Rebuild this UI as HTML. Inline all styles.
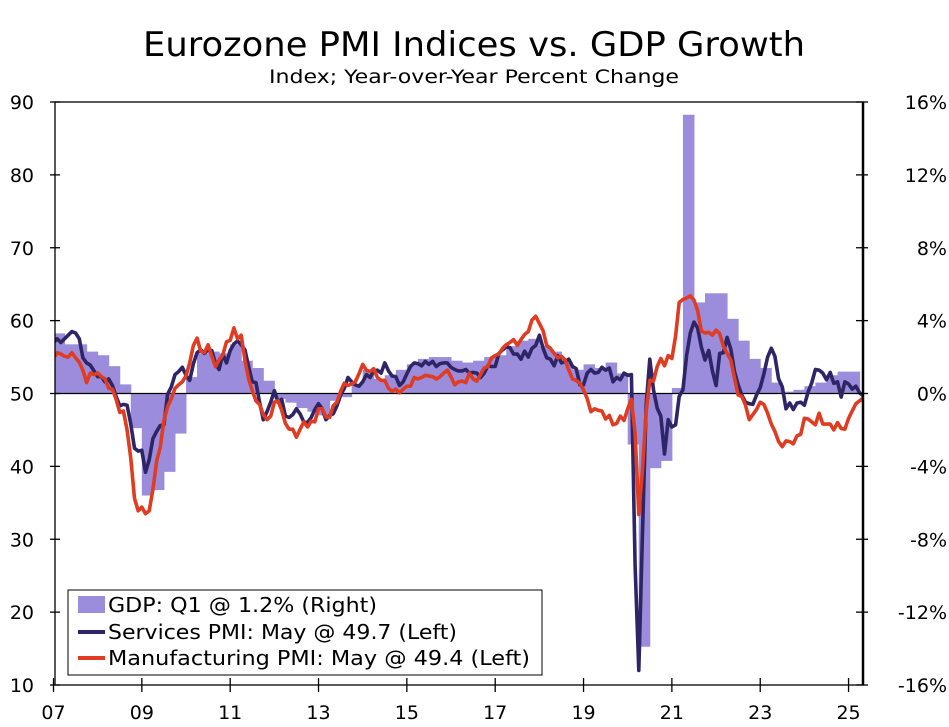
<!DOCTYPE html>
<html><head><meta charset="utf-8"><style>
body{margin:0;background:#fff;}
svg{display:block;font-family:"DejaVu Sans","Liberation Sans",sans-serif;}
</style></head><body>
<svg id="chart" width="949" height="727" xmlns="http://www.w3.org/2000/svg">
<text x="474" y="56" text-anchor="middle" font-size="34" textLength="662" lengthAdjust="spacingAndGlyphs">Eurozone PMI Indices vs. GDP Growth</text>
<text x="474" y="83" text-anchor="middle" font-size="19" textLength="410" lengthAdjust="spacingAndGlyphs">Index; Year-over-Year Percent Change</text>
<defs><clipPath id="plotclip"><rect x="55" y="102" width="808" height="583"/></clipPath></defs>
<g id="bars" clip-path="url(#plotclip)"></g>
<g id="lines" clip-path="url(#plotclip)"></g>
<g id="axes"></g>
<g>
<rect x="68" y="590" width="474" height="85" fill="#fff" stroke="#000" stroke-width="1"/>
<rect x="78" y="596" width="27" height="17" fill="#9b8ddc"/>
<text x="108" y="612" font-size="20" textLength="269" lengthAdjust="spacingAndGlyphs">GDP: Q1 @ 1.2% (Right)</text>
<line x1="78" y1="632" x2="105" y2="632" stroke="#2e2566" stroke-width="4"/>
<text x="108" y="639" font-size="20" textLength="349" lengthAdjust="spacingAndGlyphs">Services PMI: May @ 49.7 (Left)</text>
<line x1="78" y1="658" x2="105" y2="658" stroke="#e03c22" stroke-width="4"/>
<text x="108" y="665" font-size="20" textLength="422" lengthAdjust="spacingAndGlyphs">Manufacturing PMI: May @ 49.4 (Left)</text>
</g>
</svg>
<script>
const gdpQuarters = 2007; // first year, Q1
const gdpValues = [3.3,2.7,2.7,2.3, 2.1,1.5,0.5,-1.9, -5.6,-5.3,-4.3,-2.2, 0.9,2.2,2.3,2.2, 2.7,1.8,1.4,0.7, -0.3,-0.5,-0.8,-1.0, -1.2,-0.4,-0.2,0.5, 1.3,0.8,1.0,1.3, 1.6,1.9,2.0,2.0, 1.8,1.7,1.8,2.0, 2.1,2.6,2.9,3.0, 2.6,2.3,1.7,1.3, 1.6,1.4,1.7,1.1, -2.8,-13.9,-4.1,-3.7, 0.3,15.3,5.0,5.5, 5.5,4.1,2.9,1.9, 1.4,0.6,0.1,0.2, 0.4,0.6,1.0,1.2, 1.2];
const servicesPMI = [57,57.5,57,57.5,58,58.5,58.3,57.5,54.9,54.2,53.9,53.1,
52.3,52.3,51.6,52.0,51.1,49.6,48.3,48.5,48.4,45.8,42.5,42.1,
42.2,39.2,40.9,43.8,44.8,45.6,45.7,49.9,50.9,52.6,53.0,53.6,
52.5,51.8,54.1,55.6,56.0,55.5,56.0,55.9,54.1,53.3,55.4,54.2,
55.9,56.8,57.2,56.7,56.0,53.7,51.6,51.5,48.8,46.4,47.5,48.8,
50.4,48.8,49.2,46.9,46.7,47.1,47.9,47.2,46.1,46.0,46.7,47.8,
48.6,47.9,46.4,47.0,47.2,48.3,49.8,50.7,52.2,51.6,51.2,51.0,
51.6,52.6,52.2,53.1,53.2,52.8,54.2,53.1,52.4,52.3,51.1,51.6,
52.7,53.7,54.2,54.1,53.8,54.4,54.0,54.4,53.7,54.1,54.2,54.2,
53.6,53.3,53.1,53.1,53.3,52.8,52.9,52.8,52.2,52.8,53.8,53.7,
53.7,55.5,56.0,56.4,56.3,55.4,55.4,54.7,55.8,55.0,56.2,56.6,
58.0,56.2,54.9,54.7,53.8,55.2,54.2,54.4,54.7,53.7,53.4,51.2,
51.2,52.8,53.3,52.8,52.9,53.6,53.2,53.5,51.6,52.2,51.9,52.8,
52.5,52.6,26.4,12.0,30.5,48.3,54.7,50.5,48.0,46.9,41.7,46.4,
45.4,45.7,49.6,50.5,55.2,58.3,59.8,59.0,56.4,54.6,55.9,53.1,
51.1,55.5,55.6,57.7,56.1,53.0,51.2,49.8,48.8,48.6,48.5,49.8,
50.8,52.7,55.0,56.2,55.1,52.0,50.9,47.9,48.7,47.8,48.7,48.8,
48.4,50.2,51.5,53.3,53.2,52.8,51.9,52.9,51.4,51.6,49.5,51.6,
51.3,50.6,51.0,50.1,49.7];
const manufacturingPMI = [54.8,55.6,55.4,55.1,55.0,55.6,54.9,54.3,53.2,51.5,52.8,52.6,
52.8,52.3,52.0,50.7,50.6,49.2,47.4,47.6,45.0,41.1,35.6,33.9,
34.4,33.5,33.9,36.8,40.7,42.6,46.3,48.2,49.3,50.7,51.2,51.6,
52.4,54.2,56.6,57.6,55.8,55.6,56.7,55.1,53.7,54.6,55.3,57.1,
57.3,59.0,57.5,58.0,54.6,52.0,50.4,49.0,48.5,47.1,46.4,46.9,
48.8,49.0,47.7,45.9,45.1,45.1,44.0,45.1,46.1,45.4,46.2,46.1,
47.9,47.9,46.8,46.7,48.3,48.8,50.3,51.4,51.1,51.3,51.6,52.7,
54.0,53.2,53.0,53.4,52.2,51.8,51.8,50.7,50.3,50.6,50.1,50.6,
51.0,51.0,52.2,52.0,52.2,52.5,52.4,52.3,52.0,52.3,52.8,53.2,
52.3,51.2,51.6,51.7,51.5,52.8,52.0,51.7,52.6,53.5,53.7,54.9,
55.2,55.4,56.2,56.7,57.0,57.4,56.6,57.4,58.1,58.5,60.1,60.6,
59.6,58.6,56.6,56.2,55.5,54.9,55.1,54.6,53.2,52.0,51.8,51.4,
50.5,49.3,47.5,47.9,47.7,47.6,46.5,47.0,45.7,45.9,46.9,46.3,
47.9,49.2,44.5,33.4,39.4,47.4,51.8,51.7,53.7,54.8,53.8,55.2,
54.8,57.9,62.5,62.9,63.1,63.4,62.8,61.4,58.6,58.3,58.4,58.0,
58.7,58.2,56.5,55.5,54.6,52.1,49.8,49.6,48.4,46.4,47.1,47.8,
48.8,48.5,47.3,45.8,44.8,43.4,42.7,43.5,43.4,43.1,44.2,44.4,
46.6,46.5,46.1,45.7,47.3,45.8,45.8,45.8,45.0,46.0,45.2,45.1,
46.6,47.6,48.6,49.0,49.4];
const leftTicks = [90,80,70,60,50,40,30,20,10];
const rightTicks = [16,12,8,4,0,-4,-8,-12,-16];
const xTickLabels = ["07","09","11","13","15","17","19","21","23","25"];
const xTickYears = [2007,2009,2011,2013,2015,2017,2019,2021,2023,2025];

const NS="http://www.w3.org/2000/svg";
const X0=53.5, PXY=44.17, L=55, R=863, T=102, B=685;
const xs = yr => X0 + (yr-2007)*PXY;
const yl = v => B - (v-10)*(B-T)/80;
const yr = p => B - (p+16)*(B-T)/32;
function mk(tag, attrs, parent){const e=document.createElementNS(NS,tag);for(const k in attrs)e.setAttribute(k,attrs[k]);parent.appendChild(e);return e;}

const bars=document.getElementById('bars');
gdpValues.forEach((v,i)=>{
  const y0=gdpQuarters+i/4, x1=xs(y0), x2=xs(y0+0.25);
  const top=Math.min(yr(v),yr(0)), h=Math.abs(yr(v)-yr(0));
  const r=mk('rect',{x:x1,y:top,width:x2-x1+0.5,height:h,fill:'#9b8ddc'},bars);
  
  
});
const lines=document.getElementById('lines');
function drawLine(arr,color,name){
  const d=arr.map((v,i)=>(i?'L':'M')+xs(2007+i/12).toFixed(1)+','+yl(v).toFixed(1)).join('');
  const p=mk('path',{d:d,fill:'none',stroke:color,'stroke-width':3.6,'stroke-linejoin':'round'},lines);
  
  
}
const axes=document.getElementById('axes');
mk('line',{x1:L,y1:yl(50),x2:R,y2:yl(50),stroke:'#000','stroke-width':1.3},lines);
drawLine(servicesPMI,'#2e2566','services-pmi-line');
drawLine(manufacturingPMI,'#e03c22','manufacturing-pmi-line');
mk('rect',{x:L,y:T,width:R-L,height:B-T,fill:'none',stroke:'#000','stroke-width':1.3},axes);
mk('line',{x1:R,y1:T,x2:R,y2:B,stroke:'#000','stroke-width':2.5},axes);
leftTicks.forEach(v=>{
  mk('line',{x1:L-5,y1:yl(v),x2:L+5,y2:yl(v),stroke:'#000','stroke-width':1.3},axes);
  const t=mk('text',{x:34,y:yl(v)+7,'text-anchor':'end','font-size':19},axes);t.textContent=v;
  
  
});
rightTicks.forEach(v=>{
  mk('line',{x1:R-7,y1:yr(v),x2:R+5,y2:yr(v),stroke:'#000','stroke-width':1.3},axes);
  const t=mk('text',{x:947,y:yr(v)+7,'text-anchor':'end','font-size':19},axes);t.textContent=v+'%';
  
  
});
xTickYears.forEach((y,i)=>{
  const x=xs(y);
  mk('line',{x1:x,y1:B-7,x2:x,y2:B+7,stroke:'#000','stroke-width':1.3},axes);
  const t=mk('text',{x:x,y:719,'text-anchor':'middle','font-size':19},axes);t.textContent=xTickLabels[i];
  
  
});
</script>
</body></html>
